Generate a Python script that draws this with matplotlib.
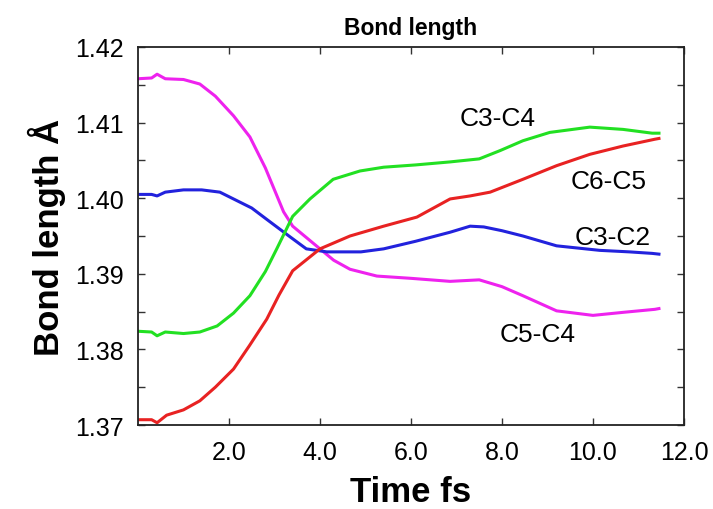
import matplotlib
matplotlib.use('Agg')
import matplotlib.pyplot as plt
from matplotlib.ticker import MultipleLocator

plt.rcParams['font.family'] = ['Liberation Sans', 'DejaVu Sans']

# bond lengths (Angstrom) vs time (fs)
t_c5c4 = [0.0, 0.3, 0.42, 0.6, 1.0, 1.36, 1.7, 2.1, 2.46, 2.8, 3.2, 3.4, 3.7, 4.0, 4.3, 4.66, 5.25, 6.0, 6.86, 7.5, 8.0, 8.46, 9.2, 10.0, 10.66, 11.36, 11.45]
c5c4 = [1.4158, 1.4159, 1.4164, 1.4158, 1.4157, 1.4151, 1.4135, 1.4109, 1.4081, 1.4040, 1.3982, 1.3963, 1.3948, 1.3933, 1.3918, 1.3906, 1.3897, 1.3894, 1.3890, 1.3892, 1.3883, 1.3871, 1.3851, 1.3845, 1.3849, 1.3853, 1.3854]

t_c3c2 = [0.0, 0.3, 0.42, 0.6, 1.0, 1.4, 1.8, 2.1, 2.5, 2.83, 3.34, 3.7, 4.15, 4.9, 5.4, 6.1, 6.86, 7.3, 7.6, 8.0, 8.46, 9.2, 10.15, 10.8, 11.3, 11.45]
c3c2 = [1.4005, 1.4005, 1.4003, 1.4008, 1.4011, 1.4011, 1.4008, 1.3999, 1.3987, 1.3972, 1.3949, 1.3933, 1.3929, 1.3929, 1.3933, 1.3943, 1.3955, 1.3963, 1.3962, 1.3957, 1.3950, 1.3937, 1.3931, 1.3929, 1.3927, 1.3926]

t_c3c4 = [0.0, 0.3, 0.42, 0.6, 1.0, 1.36, 1.74, 2.1, 2.46, 2.8, 3.05, 3.4, 3.78, 4.29, 4.88, 5.4, 6.1, 6.86, 7.5, 7.96, 8.46, 9.05, 9.93, 10.66, 11.3, 11.45]
c3c4 = [1.3824, 1.3823, 1.3818, 1.3823, 1.3821, 1.3823, 1.3831, 1.3848, 1.3871, 1.3903, 1.3933, 1.3976, 1.3999, 1.4025, 1.4036, 1.4041, 1.4044, 1.4048, 1.4052, 1.4063, 1.4076, 1.4087, 1.4094, 1.4091, 1.4086, 1.4086]

t_c6c5 = [0.0, 0.3, 0.42, 0.63, 1.0, 1.36, 1.7, 2.1, 2.45, 2.83, 3.1, 3.4, 4.0, 4.66, 5.4, 6.13, 6.86, 7.3, 7.74, 8.46, 9.2, 9.93, 10.66, 11.36, 11.45]
c6c5 = [1.3707, 1.3707, 1.3703, 1.3713, 1.3720, 1.3732, 1.3750, 1.3774, 1.3805, 1.3840, 1.3872, 1.3904, 1.3933, 1.3950, 1.3963, 1.3975, 1.3999, 1.4003, 1.4008, 1.4025, 1.4043, 1.4058, 1.4069, 1.4078, 1.4079]

series = [
    (t_c5c4, c5c4, '#ee22ee', 'C5-C4', (8.79, 1.3820)),
    (t_c3c2, c3c2, '#2222dd', 'C3-C2', (10.44, 1.3949)),
    (t_c3c4, c3c4, '#22e022', 'C3-C4', (7.91, 1.4106)),
    (t_c6c5, c6c5, '#e82222', 'C6-C5', (10.35, 1.4023)),
]

fig = plt.figure(figsize=(7.13, 5.10), dpi=100)
ax = fig.add_axes([0.1935, 0.1647, 0.7658, 0.7412])

for t, y, c, name, pos in series:
    ax.plot(t, y, color=c, lw=2.2)
    ax.text(pos[0], pos[1], name, fontsize=19, ha='center', va='center')

ax.set_xlim(0, 12)
ax.set_ylim(1.37, 1.42)
ax.set_xticks([2, 4, 6, 8, 10, 12])
ax.set_xticklabels(['2.0', '4.0', '6.0', '8.0', '10.0', '12.0'])
ax.set_yticks([1.37, 1.38, 1.39, 1.40, 1.41, 1.42])
ax.set_yticklabels(['1.37', '1.38', '1.39', '1.40', '1.41', '1.42'])
ax.yaxis.set_minor_locator(MultipleLocator(0.005))
ax.tick_params(which='both', direction='in', top=True, right=True, labelsize=18,
               width=1, length=5, color='#333333')
ax.tick_params(axis='x', pad=11)
ax.tick_params(axis='y', pad=10)
for s in ax.spines.values():
    s.set_linewidth(1.3)
    s.set_color('#222222')

ax.set_title('Bond length', fontsize=16.5, fontweight='bold', pad=9)
ax.set_xlabel('Time fs', fontsize=25, fontweight='bold', labelpad=8)
ax.set_ylabel('Bond length Å', fontsize=25, fontweight='bold', labelpad=7)

fig.savefig('out.png', dpi=100)
